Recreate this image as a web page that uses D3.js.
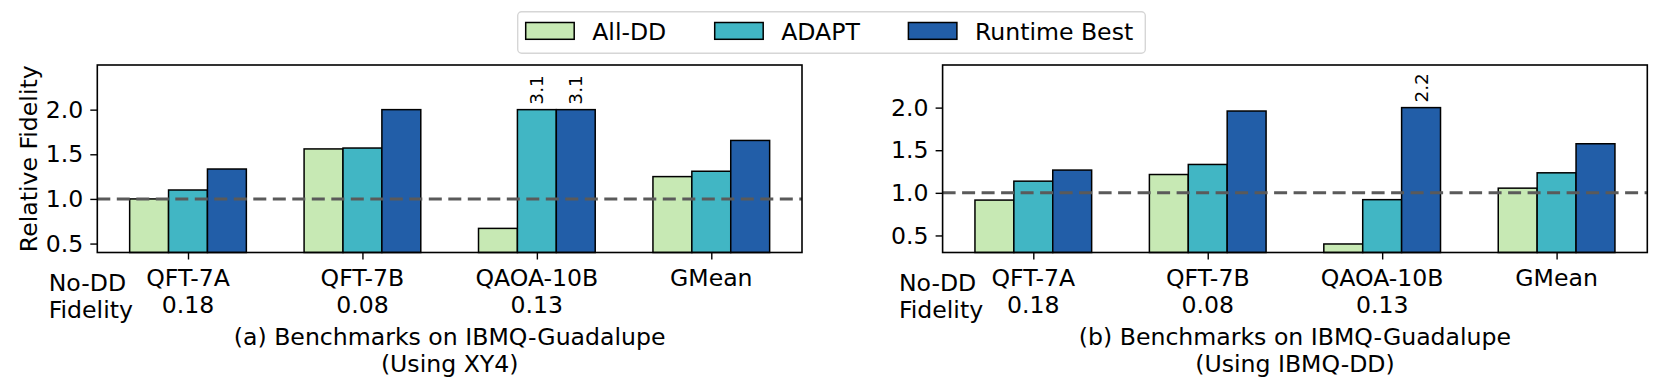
<!DOCTYPE html>
<html>
<head>
<meta charset="utf-8">
<script src="https://cdn.jsdelivr.net/npm/d3@7"></script>
<style>
  body { margin: 0; background: #fff; }
  svg { display: block; font-family: "DejaVu Sans", sans-serif; }
</style>
</head>
<body>
<div id="chart"></div>
<script>
// Chart data
var categories = ["QFT-7A", "QFT-7B", "QAOA-10B", "GMean"];
var noDDFidelity = ["0.18", "0.08", "0.13", ""];
var seriesNames = ["All-DD", "ADAPT", "Runtime Best"];
var seriesColors = ["#c7e9b4", "#41b6c4", "#225ea8"];

// (a) XY4
var xy4AllDD = [1.00, 1.56, 0.67, 1.25];
var xy4Adapt = [1.10, 1.57, 3.1, 1.31];
var xy4Runtime = [1.335, 2.00, 3.1, 1.655];

// (b) IBMQ-DD
var ibmAllDD = [0.915, 1.215, 0.40, 1.055];
var ibmAdapt = [1.137, 1.333, 0.92, 1.235];
var ibmRuntime = [1.267, 1.96, 2.2, 1.576];

var yTicks = [0.5, 1.0, 1.5, 2.0];
var yCap = 2.0;

var width = 1661;
var height = 389;
var fontSize = 23.6;

var svg = d3.select("#chart")
    .append("svg")
    .attr("width", width)
    .attr("height", height);

var panels = [
    { left: 97.3, yMin: 0.4, series: [xy4AllDD, xy4Adapt, xy4Runtime], noddX: 48.7,
      title: ["(a) Benchmarks on IBMQ-Guadalupe", "(Using XY4)"], ylabel: "Relative Fidelity" },
    { left: 942.6, yMin: 0.3, series: [ibmAllDD, ibmAdapt, ibmRuntime], noddX: 898.9,
      title: ["(b) Benchmarks on IBMQ-Guadalupe", "(Using IBMQ-DD)"], ylabel: null }
];

var plotW = 704.7;
var plotTop = 65;
var plotBottom = 252.5;
var barW = 0.223;

panels.forEach(function(p) {
    var x = d3.scaleLinear()
        .domain([-0.52, 3.52])
        .range([p.left, p.left + plotW]);
    var y = d3.scaleLinear()
        .domain([p.yMin, 2.5])
        .range([plotBottom, plotTop]);

    var g = svg.append("g");

    // Bars
    p.series.forEach(function(vals, si) {
        g.selectAll(null)
            .data(vals)
            .enter()
            .append("rect")
            .attr("x", function(d, i) { return x(i + (si - 1) * barW - barW / 2); })
            .attr("width", x(barW) - x(0))
            .attr("y", function(d) { return y(Math.min(d, yCap)); })
            .attr("height", function(d) { return plotBottom - y(Math.min(d, yCap)); })
            .attr("fill", seriesColors[si])
            .attr("stroke", "#000")
            .attr("stroke-width", 1.5);

        // labels for clipped bars
        g.selectAll(null)
            .data(vals.map(function(d, i) { return { v: d, i: i }; }).filter(function(d) { return d.v > yCap; }))
            .enter()
            .append("text")
            .attr("transform", function(d) {
                return "translate(" + x(d.i + (si - 1) * barW) + "," + (y(yCap) - 5) + ") rotate(-90)";
            })
            .attr("dy", "0.35em")
            .style("font-size", "18.5px")
            .style("fill", "#000")
            .text(function(d) { return d.v.toFixed(1); });
    });

    // Reference line at 1.0
    g.append("line")
        .attr("x1", p.left)
        .attr("x2", p.left + plotW)
        .attr("y1", y(1))
        .attr("y2", y(1))
        .attr("stroke", "#5a5a5a")
        .attr("stroke-width", 3)
        .attr("stroke-dasharray", "13,6.5");

    // Frame
    g.append("rect")
        .attr("x", p.left)
        .attr("y", plotTop)
        .attr("width", plotW)
        .attr("height", plotBottom - plotTop)
        .attr("fill", "none")
        .attr("stroke", "#000")
        .attr("stroke-width", 1.6);

    // Y axis
    var yAxis = g.append("g")
        .attr("transform", "translate(" + p.left + ",0)")
        .call(d3.axisLeft(y).tickValues(yTicks).tickFormat(d3.format(".1f")).tickSize(7).tickPadding(7));
    yAxis.select(".domain").remove();
    yAxis.selectAll("line").attr("stroke-width", 1.4);
    yAxis.selectAll("text").style("font-size", fontSize + "px").attr("fill", "#000")
        .style("font-family", "DejaVu Sans");

    // X axis ticks
    var xAxis = g.append("g")
        .attr("transform", "translate(0," + plotBottom + ")")
        .call(d3.axisBottom(x).tickValues(d3.range(categories.length)).tickFormat("").tickSize(7));
    xAxis.select(".domain").remove();
    xAxis.selectAll("line").attr("stroke-width", 1.4);

    // Category labels with No-DD fidelity
    g.selectAll(null)
        .data(categories)
        .enter()
        .append("text")
        .attr("x", function(d, i) { return x(i); })
        .attr("y", 286)
        .attr("text-anchor", "middle")
        .style("font-size", fontSize + "px")
        .text(function(d) { return d; });

    g.selectAll(null)
        .data(noDDFidelity)
        .enter()
        .append("text")
        .attr("x", function(d, i) { return x(i); })
        .attr("y", 313)
        .attr("text-anchor", "middle")
        .style("font-size", fontSize + "px")
        .text(function(d) { return d; });

    g.append("text")
        .attr("x", p.noddX)
        .attr("y", 290.5)
        .style("font-size", fontSize + "px")
        .text("No-DD");
    g.append("text")
        .attr("x", p.noddX)
        .attr("y", 318)
        .style("font-size", fontSize + "px")
        .text("Fidelity");

    // Panel title
    p.title.forEach(function(t, k) {
        g.append("text")
            .attr("x", p.left + plotW / 2)
            .attr("y", 345 + k * 27)
            .attr("text-anchor", "middle")
            .style("font-size", fontSize + "px")
            .text(t);
    });

    if (p.ylabel) {
        g.append("text")
            .attr("transform", "translate(37," + ((plotTop + plotBottom) / 2) + ") rotate(-90)")
            .attr("text-anchor", "middle")
            .style("font-size", fontSize + "px")
            .text(p.ylabel);
    }
});

// Legend
var legend = svg.append("g");
legend.append("rect")
    .attr("x", 517.7)
    .attr("y", 11.7)
    .attr("width", 627.6)
    .attr("height", 41.6)
    .attr("rx", 4)
    .attr("fill", "#fff")
    .attr("stroke", "#d6d6d6")
    .attr("stroke-width", 1.4);

var legendX = [525.7, 714.7, 908.4];
seriesNames.forEach(function(name, i) {
    legend.append("rect")
        .attr("x", legendX[i])
        .attr("y", 22.5)
        .attr("width", 48.5)
        .attr("height", 16.8)
        .attr("fill", seriesColors[i])
        .attr("stroke", "#000")
        .attr("stroke-width", 1.5);
    legend.append("text")
        .attr("x", legendX[i] + 66.5)
        .attr("y", 40)
        .style("font-size", fontSize + "px")
        .text(name);
});
</script>
</body>
</html>
